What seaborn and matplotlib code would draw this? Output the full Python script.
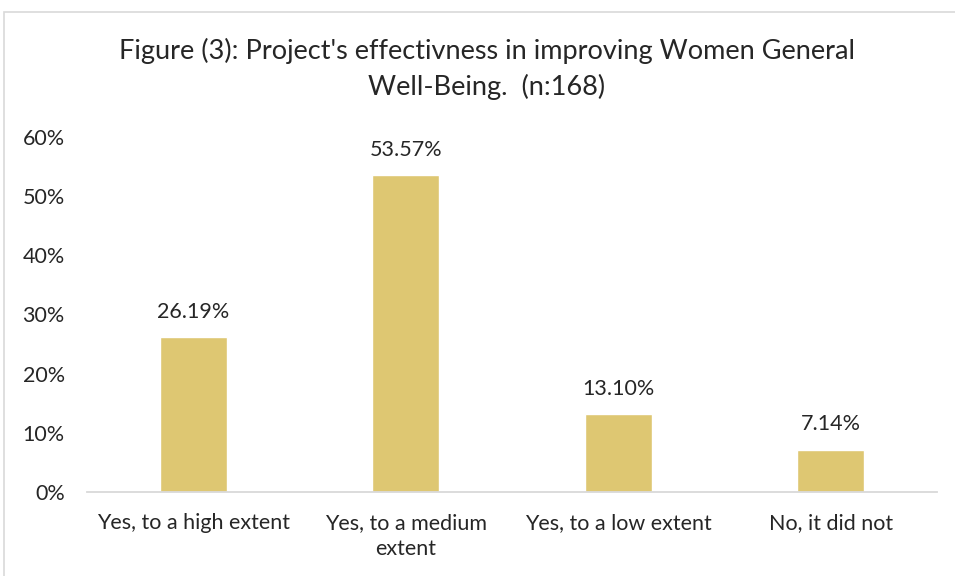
import matplotlib
matplotlib.use("Agg")
import matplotlib.pyplot as plt
import seaborn as sns
import pandas as pd
from matplotlib.patches import Rectangle
from matplotlib.ticker import PercentFormatter

categories = ["Yes, to a high extent", "Yes, to a medium\nextent", "Yes, to a low extent", "No, it did not"]
values = [26.19, 53.57, 13.10, 7.14]
yticks = [0, 10, 20, 30, 40, 50, 60]
title = "Figure (3): Project's effectivness in improving Women General\nWell-Being.  (n:168)"

bar_color = "#DEC772"
text_color = "#262626"
grid_gray = "#D9D9D9"

sns.set_theme(style="white")
plt.rcParams["font.family"] = ["Lato", "DejaVu Sans"]

df = pd.DataFrame({"category": categories, "value": values})

fig = plt.figure(figsize=(9.55, 5.76), dpi=100)
ax = fig.add_axes([87 / 955, 1 - 492 / 576, 850 / 955, (492 - 137) / 576])

sns.barplot(data=df, x="category", y="value", color=bar_color, width=0.315,
            saturation=1, ax=ax)

ax.set_xlim(-0.5, len(categories) - 0.5)
ax.set_ylim(0, 60)
ax.set_yticks(yticks)
ax.yaxis.set_major_formatter(PercentFormatter(decimals=0))
ax.set_xlabel("")
ax.set_ylabel("")

for s in ["top", "right", "left"]:
    ax.spines[s].set_visible(False)
ax.spines["bottom"].set_color(grid_gray)
ax.spines["bottom"].set_linewidth(1.3)
ax.tick_params(axis="both", length=0, labelsize=15.5, colors=text_color)
ax.tick_params(axis="y", pad=16)
ax.tick_params(axis="x", pad=15)
for lbl in ax.get_xticklabels():
    lbl.set_linespacing(1.4)

for i, v in enumerate(values):
    ax.annotate(f"{v:.2f}%", (i, v), xytext=(0, 11), textcoords="offset points",
                ha="center", va="bottom", fontsize=15.5, color=text_color)

fig.text(487 / 955, 1 - 69 / 576, title, ha="center", va="center",
         fontsize=19.5, color=text_color, linespacing=1.5)

fig.patches.append(Rectangle((4 / 955, -0.1), 1.2, 1.1 - 12 / 576, transform=fig.transFigure,
                             fill=False, edgecolor=grid_gray, linewidth=1.2))

fig.savefig("out.png", dpi=100, facecolor="white")
